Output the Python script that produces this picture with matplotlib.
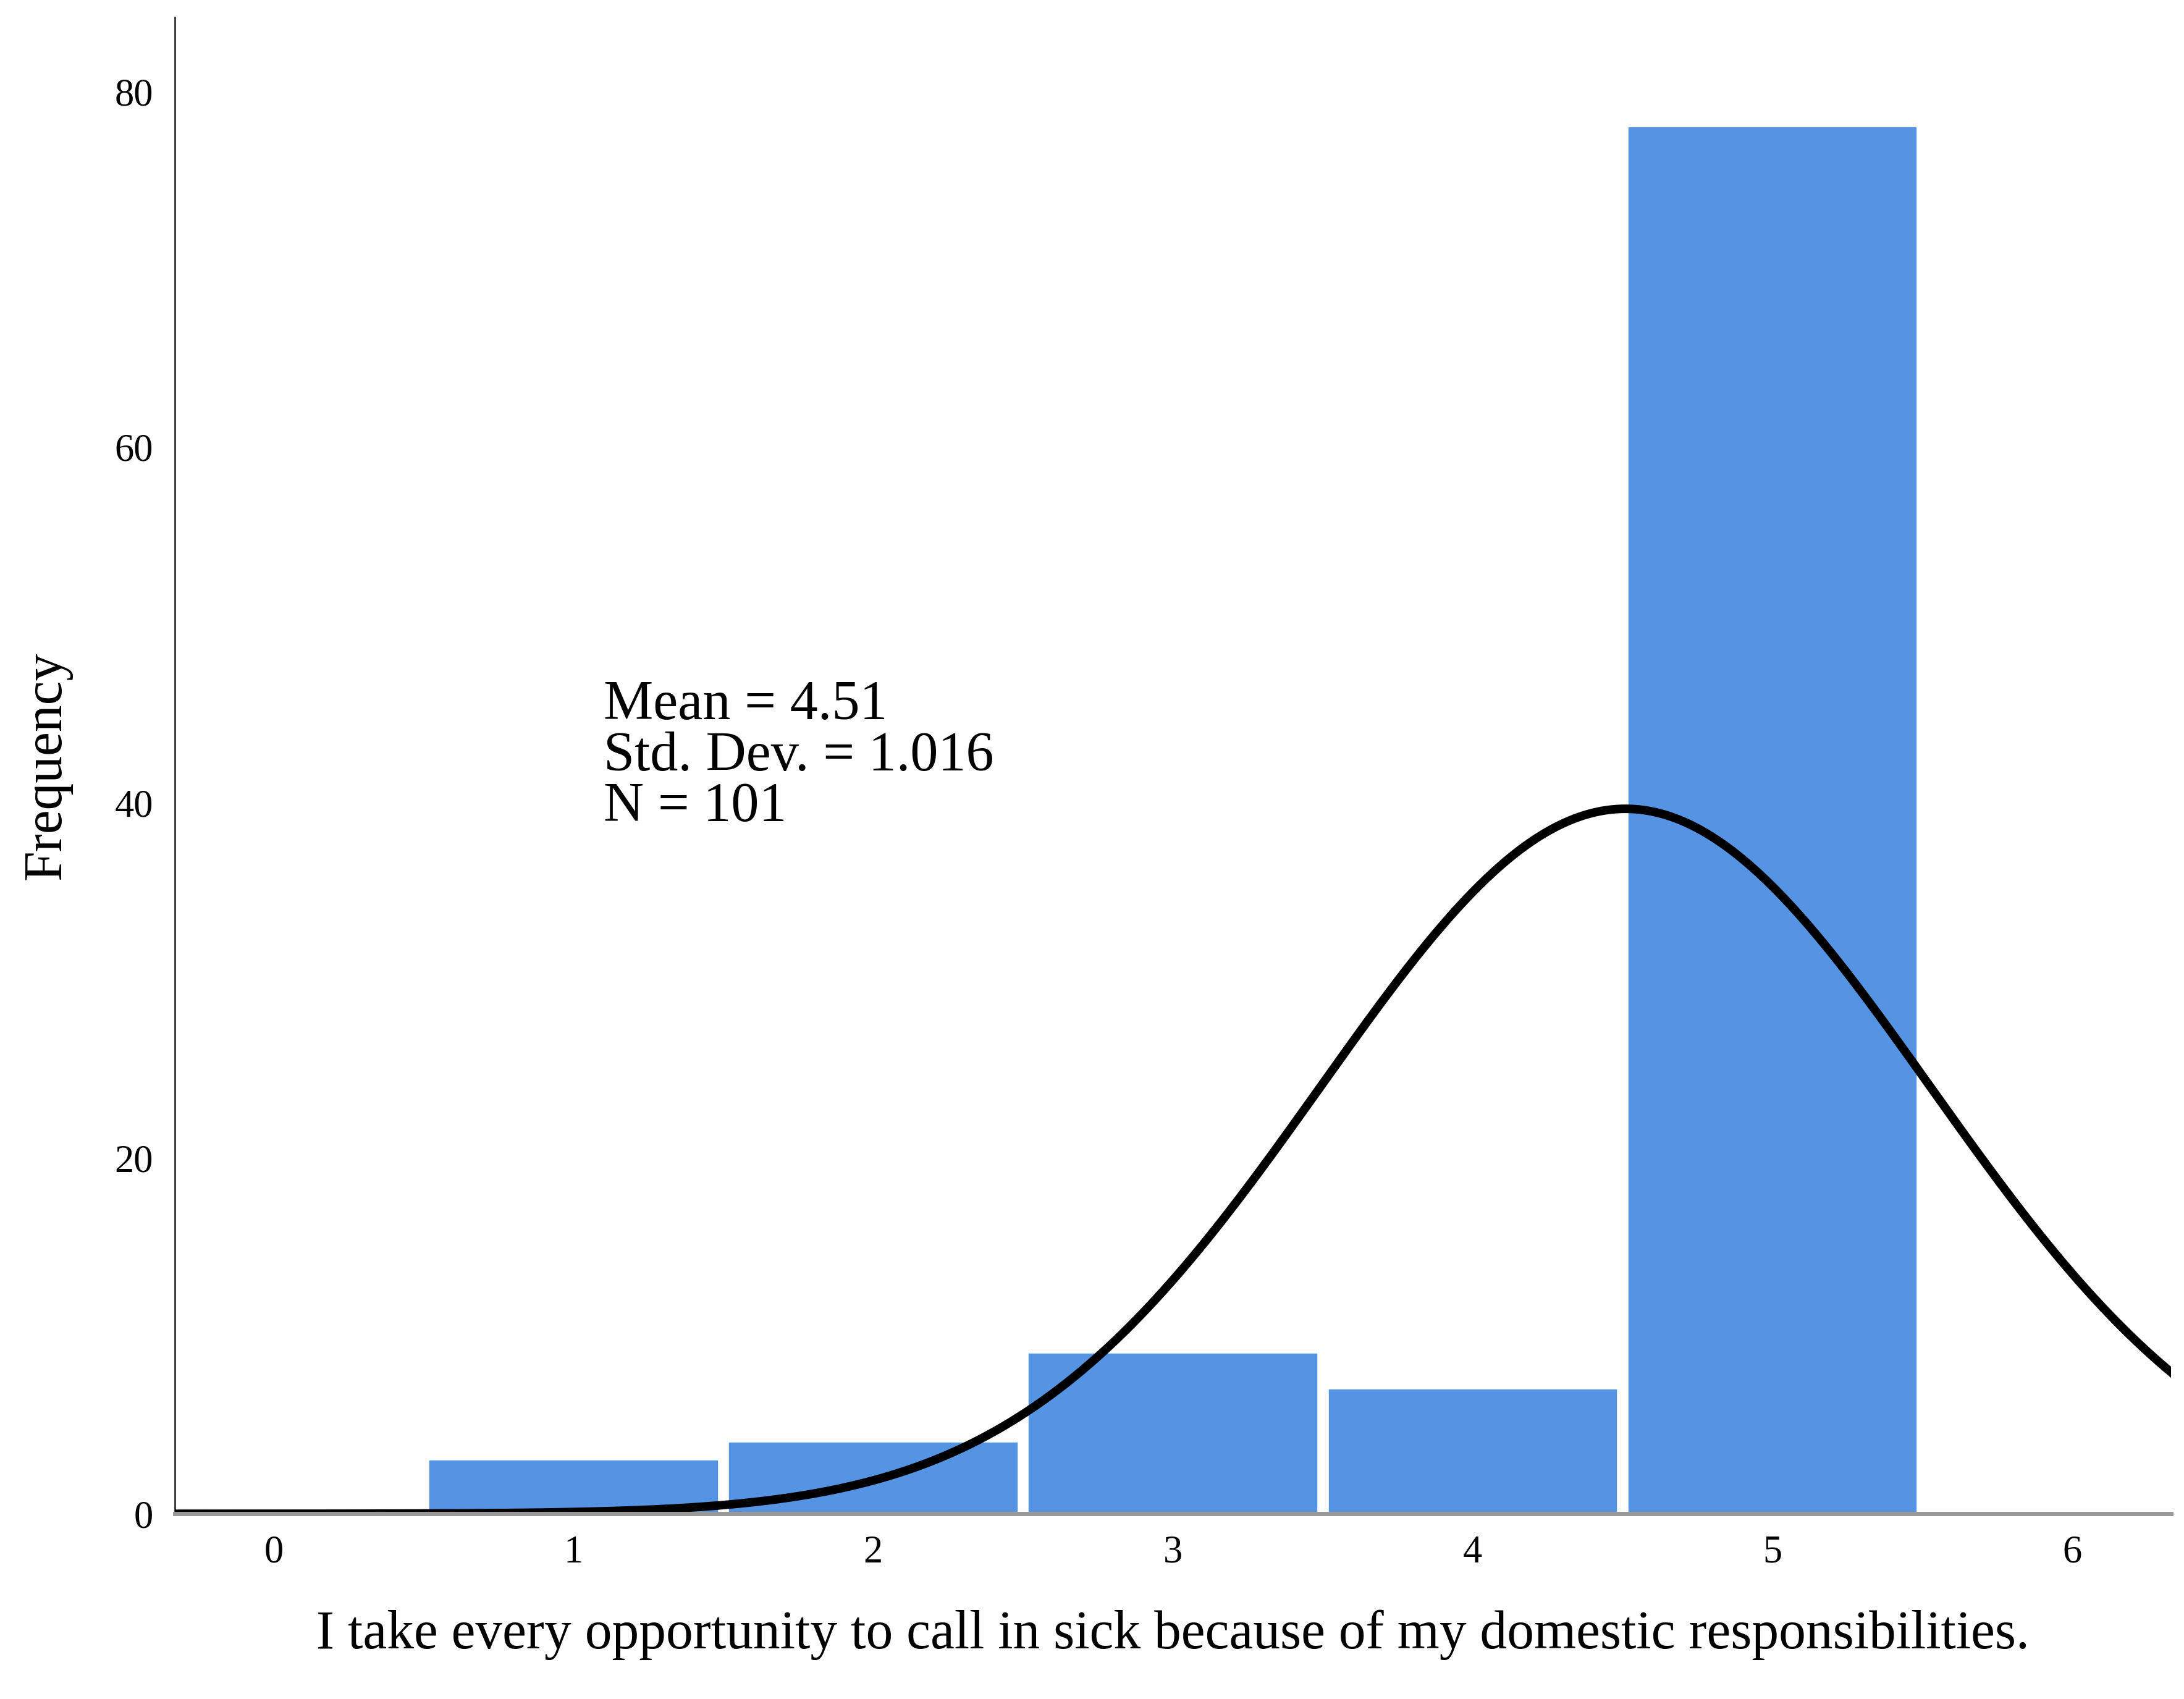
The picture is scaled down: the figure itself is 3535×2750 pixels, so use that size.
import numpy as np
import matplotlib.pyplot as plt

scores = [1, 2, 3, 4, 5]
counts = [3, 4, 9, 7, 78]
mean = 4.51
sd = 1.016
n = 101

plt.rcParams['font.family'] = ['Liberation Serif', 'DejaVu Serif']

fig = plt.figure(figsize=(35.35, 27.5), dpi=100)
ax = fig.add_axes([0.08, 0.109, 0.914, 0.881])

ax.bar(scores, counts, width=0.96, color='#5594E2', edgecolor='#5594E2', zorder=2)

xs = np.linspace(-0.33, 6.33, 500)
ys = n * np.exp(-0.5 * ((xs - mean) / sd) ** 2) / (sd * np.sqrt(2 * np.pi))
ax.plot(xs, ys, color='black', lw=10, zorder=3)

ax.set_xlim(-0.33, 6.33)
ax.set_ylim(0, 84.2)
ax.set_xticks(range(7))
ax.set_yticks([0, 20, 40, 60, 80])
ax.tick_params(length=0, labelsize=45, pad=25)
for s in ['top', 'right']:
    ax.spines[s].set_visible(False)
ax.spines['left'].set_color('#333333')
ax.spines['left'].set_linewidth(2)
ax.spines['bottom'].set_color('#999999')
ax.spines['bottom'].set_linewidth(5)
ax.spines['bottom'].set_zorder(4)

ax.set_xlabel('I take every opportunity to call in sick because of my domestic responsibilities.',
              fontsize=63, labelpad=45)
ax.set_ylabel('Frequency', fontsize=63, labelpad=50)

ax.text(1.1, 38.3, 'Mean = 4.51\nStd. Dev. = 1.016\nN = 101', fontsize=65,
        va='bottom', ha='left', linespacing=1.0)

fig.savefig('out.png', dpi=100)
